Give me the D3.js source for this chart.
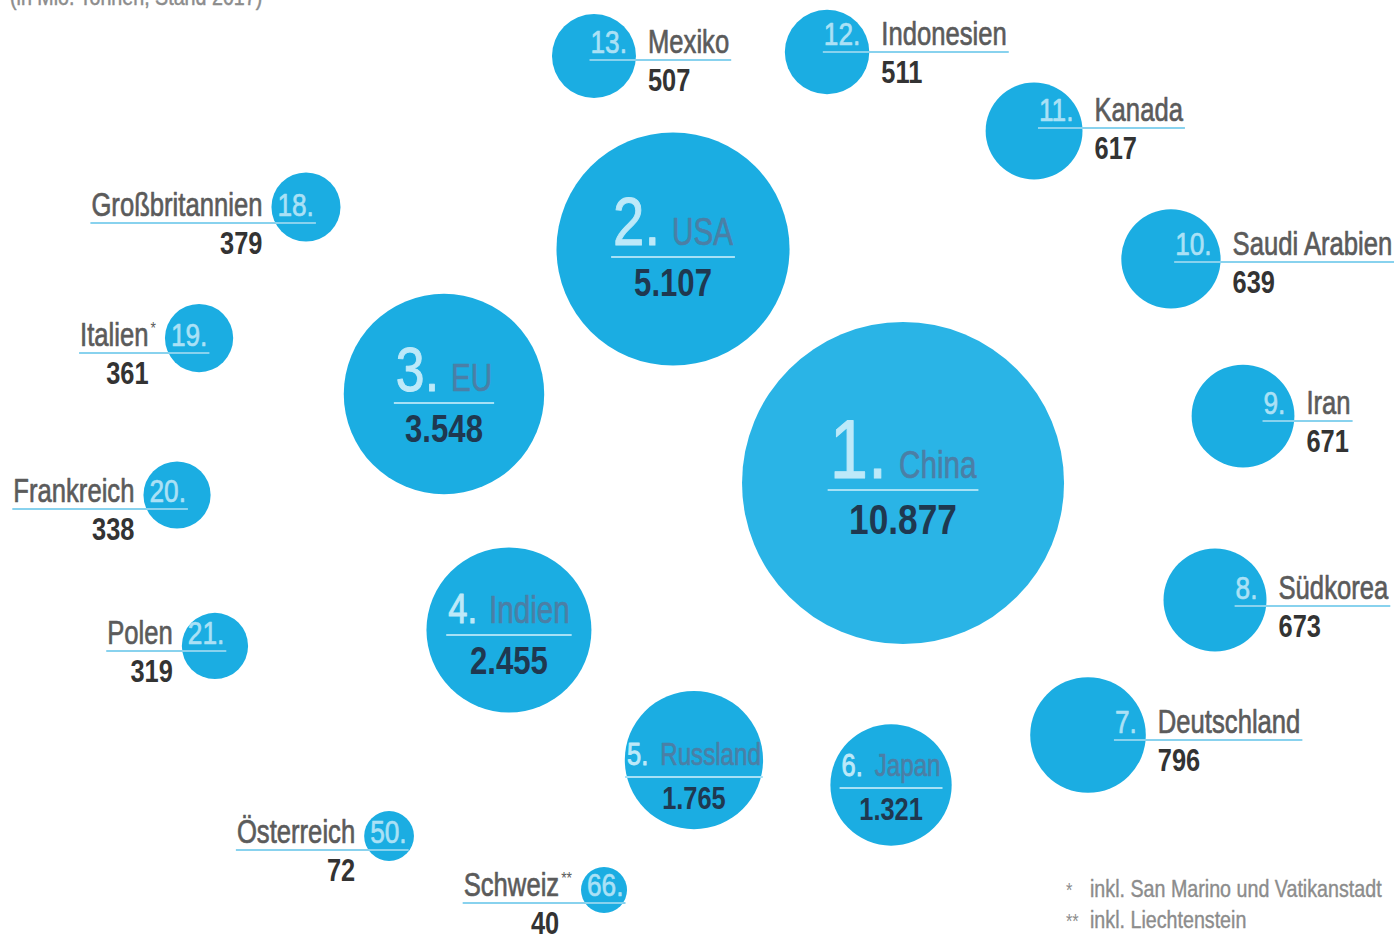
<!DOCTYPE html>
<html>
<head>
<meta charset="utf-8">
<script src="https://cdn.jsdelivr.net/npm/d3@7"></script>
<style>
  html, body { margin: 0; padding: 0; background: #ffffff; }
  svg { display: block; }
  text { font-family: "Liberation Sans", Arial, sans-serif; }
</style>
</head>
<body>
<svg id="chart" width="1394" height="941"></svg>
<script>
// CO2-Emissionen nach Ländern (in Mio. Tonnen, Stand 2017)
const ranks = [1, 2, 3, 4, 5, 6, 7, 8, 9, 10, 11, 12, 13, 18, 19, 20, 21, 50, 66];
const countries = ["China", "USA", "EU", "Indien", "Russland", "Japan", "Deutschland", "Südkorea",
  "Iran", "Saudi Arabien", "Kanada", "Indonesien", "Mexiko", "Großbritannien", "Italien",
  "Frankreich", "Polen", "Österreich", "Schweiz"];
const emissions = [10877, 5107, 3548, 2455, 1765, 1321, 796, 673, 671, 639, 617, 511, 507, 379, 361, 338, 319, 72, 40];
const noteMarks = ["", "", "", "", "", "", "", "", "", "", "", "", "", "", "*", "", "", "", "**"];
const footnoteMarks = ["*", "**"];
const footnoteTexts = ["inkl. San Marino und Vatikanstadt", "inkl. Liechtenstein"];
const subtitle = "(in Mio. Tonnen, Stand 2017)";

// Bubble arrangement: centre as fraction of the canvas, side of the label, underline offset (px)
const placement = [
  [0.6478, 0.5133, "in", 7],
  [0.4828, 0.2646, "in", 8],
  [0.3185, 0.4187, "in", 9],
  [0.3651, 0.6695, "in", 5],
  [0.4978, 0.8077, "in", 17],
  [0.6392, 0.8342, "in", 3],
  [0.7805, 0.7811, "right", 5],
  [0.8716, 0.6376, "right", 6],
  [0.8917, 0.4421, "right", 5],
  [0.8400, 0.2752, "right", 3],
  [0.7418, 0.1392, "right", -3],
  [0.5933, 0.0553, "right", 0],
  [0.4261, 0.0595, "right", 4],
  [0.2195, 0.2200, "left", 16],
  [0.1428, 0.3592, "left", 15],
  [0.1270, 0.5260, "left", 14],
  [0.1542, 0.6865, "left", 5],
  [0.2791, 0.8884, "left", 14],
  [0.4333, 0.9458, "left", 13]
];

const W = 1394, H = 941;
const svg = d3.select("#chart");

const x = d3.scaleLinear([0, 1], [0, W]);
const y = d3.scaleLinear([0, 1], [0, H]);
const r = d3.scaleSqrt()
  .domain([0, 40, 400, 800, 1400, 3600, d3.max(emissions)])
  .range([0, 23, 35, 58, 61, 101, 161]);

// type sizes inside the large bubbles depend on bubble radius
const rankSize = d3.scaleLinear().domain([72, 87, 100, 161]).range([31, 47, 63, 84]).clamp(true);
const nameSize = d3.scaleThreshold().domain([80]).range([31, 38]);
const valueSize = d3.scaleThreshold().domain([80, 150]).range([31, 38, 43]);

const fmt = d3.formatLocale({ decimal: ",", thousands: ".", grouping: [3], currency: ["", " €"] }).format(",d");

const C = {
  bubble: "#1badE2",
  bubbleTop: "#2ab4e6",
  rankIn: "#bde9f9",
  rankSmall: "#abe1f6",
  nameIn: "#4b7fa6",
  valueIn: "#1f3850",
  lineIn: "#a6e1f6",
  name: "#5b5b5b",
  value: "#333333",
  line: "#88d2ee",
  note: "#8c8c8c"
};
// condensed look: horizontal compression of the regular face
const NARROW = 0.82;
const NAME_SX = 0.92, NAME_IN_SX = 0.95, GAP = 12;

const data = countries.map((c, i) => ({
  rank: ranks[i], name: c, value: emissions[i], mark: noteMarks[i],
  px: placement[i][0], py: placement[i][1], side: placement[i][2], ly: placement[i][3]
}));

const gCircles = svg.append("g");
const gLines = svg.append("g");
const gText = svg.append("g");

gCircles.selectAll("circle").data(data).join("circle")
  .attr("cx", d => x(d.px))
  .attr("cy", d => y(d.py))
  .attr("r", d => r(d.value))
  .attr("fill", d => d.rank === 1 ? C.bubbleTop : C.bubble);

function addText(str, o) {
  const t = gText.append("text")
    .attr("text-anchor", o.anchor || "start")
    .attr("fill", o.fill)
    .style("font-size", o.size + "px")
    .style("font-weight", o.bold ? 700 : 400)
    .text(str);
  if (o.heavy) {
    // slightly heavier strokes for the regular face
    t.attr("stroke", o.fill).attr("stroke-width", o.heavy).attr("stroke-linejoin", "round");
  }
  t.datum({ sx: (o.sx || 1) * NARROW });
  place(t, o.x || 0, o.y || 0);
  return t;
}
function place(t, tx, ty) {
  t.attr("transform", `translate(${tx},${ty}) scale(${t.datum().sx},1)`);
}
function widthOf(t) {
  return t.node().getComputedTextLength() * t.datum().sx;
}
function rule(x1, x2, yy, color) {
  gLines.append("line")
    .attr("x1", x1).attr("x2", x2).attr("y1", yy).attr("y2", yy)
    .attr("stroke", color).attr("stroke-width", 2);
}

data.forEach(d => {
  const cx = x(d.px), cy = y(d.py), rr = r(d.value);
  const ly = cy + d.ly;

  if (d.side === "in") {
    const vs = valueSize(rr);
    const tr = addText(d.rank + ".", { size: rankSize(rr), fill: C.rankIn, heavy: 1 });
    const tn = addText(d.name, { size: nameSize(rr), fill: C.nameIn, sx: NAME_IN_SX, heavy: 0.7 });
    const wr = widthOf(tr), wn = widthOf(tn);
    const total = wr + GAP + wn;
    const x0 = cx - total / 2;
    place(tr, x0, ly - 12);
    place(tn, x0 + wr + GAP, ly - 12);
    rule(x0 - 2, x0 + total + 2, ly, C.lineIn);
    addText(fmt(d.value), { size: vs, bold: true, fill: C.valueIn, anchor: "middle", x: cx, y: ly + vs + 1 });
  } else if (d.side === "right") {
    const tr = addText(d.rank + ".", { size: 32, fill: C.rankSmall, anchor: "end", x: cx + rr - 9, y: ly - 7, heavy: 0.7 });
    const nx = cx + rr + 12;
    const tn = addText(d.name, { size: 34, fill: C.name, sx: NAME_SX, x: nx, y: ly - 7, heavy: 0.7 });
    rule(cx + rr - 9 - widthOf(tr) - 1, nx + widthOf(tn) + 2, ly, C.line);
    addText(fmt(d.value), { size: 31, bold: true, fill: C.value, x: nx, y: ly + 31 });
  } else {
    const tr = addText(d.rank + ".", { size: 32, fill: C.rankSmall, x: cx - rr + 6, y: ly - 7, heavy: 0.7 });
    let end = cx - rr - 9;
    if (d.mark) {
      const tm = addText(d.mark, { size: 17, fill: C.name, anchor: "end", x: end, y: ly - 19 });
      end -= widthOf(tm) + 2;
    }
    const tn = addText(d.name, { size: 34, fill: C.name, sx: NAME_SX, anchor: "end", x: end, y: ly - 7, heavy: 0.7 });
    rule(end - widthOf(tn) - 1, cx - rr + 6 + widthOf(tr) + 2, ly, C.line);
    addText(fmt(d.value), { size: 31, bold: true, fill: C.value, anchor: "end", x: end, y: ly + 31 });
  }
});

// subtitle, cut at the upper edge
addText(subtitle, { size: 24, fill: C.note, x: 10, y: 5, heavy: 0.5 });

// footnotes
footnoteTexts.forEach((t, i) => {
  const fy = 897 + i * 31;
  addText(footnoteMarks[i], { size: 20, fill: C.note, x: 1066, y: fy });
  addText(t, { size: 24, fill: C.note, x: 1090, y: fy, heavy: 0.4 });
});
</script>
</body>
</html>
